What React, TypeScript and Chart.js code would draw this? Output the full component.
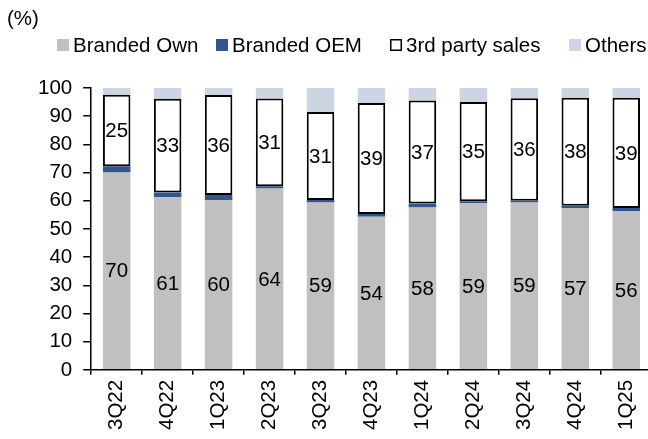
import React, { useEffect, useRef } from "react";
import { Chart, registerables } from "chart.js";

Chart.register(...registerables);

const categories = ["3Q22", "4Q22", "1Q23", "2Q23", "3Q23", "4Q23", "1Q24", "2Q24", "3Q24", "4Q24", "1Q25"];
const brandedOwn = [70.0, 61.3, 60.3, 64.3, 59.4, 54.3, 57.6, 59.2, 59.4, 57.4, 56.4];
const brandedOEM = [2.2, 1.6, 1.7, 0.8, 0.9, 1.0, 1.4, 0.6, 0.6, 0.8, 1.0];
const thirdParty = [25.4, 33.3, 35.5, 31.2, 31.2, 39.4, 36.6, 35.2, 36.4, 38.3, 39.1];
const others = [2.4, 3.8, 2.5, 3.7, 8.5, 5.3, 4.4, 5.0, 3.6, 3.5, 3.5];
const seriesNames = ["Branded Own", "Branded OEM", "3rd party sales", "Others"];
const unitLabel = "(%)";
const yMin = 0;
const yMax = 100;
const yStep = 10;

const FONT = '"Liberation Sans", Arial, sans-serif';
const FS = 20.5;
const legendX = [57, 216, 390, 569];

const segLabelPlugin = {
  id: "segLabels",
  afterDatasetsDraw(chart: any) {
    const ctx = chart.ctx;
    ctx.save();
    ctx.font = `${FS}px ${FONT}`;
    ctx.fillStyle = "#000";
    ctx.textAlign = "center";
    ctx.textBaseline = "middle";
    [0, 2].forEach((di) => {
      const meta = chart.getDatasetMeta(di);
      meta.data.forEach((el: any, i: number) => {
        const p = el.getProps(["x", "y", "base"], true);
        const v = chart.data.datasets[di].data[i] as number;
        ctx.fillText(String(Math.round(v)), p.x, (p.y + p.base) / 2 + 1);
      });
    });
    ctx.restore();
  },
};

const headerPlugin = {
  id: "headerLegend",
  afterDraw(chart: any) {
    const ctx = chart.ctx;
    ctx.save();
    ctx.font = `${FS}px ${FONT}`;
    ctx.textAlign = "left";
    ctx.textBaseline = "middle";
    ctx.fillStyle = "#000";
    ctx.fillText(unitLabel, 7, 19);
    const y = 45;
    chart.data.datasets.forEach((ds: any, i: number) => {
      const x = legendX[i];
      const box = 12;
      ctx.fillStyle = ds.backgroundColor;
      ctx.fillRect(x, y - box / 2, box, box);
      if (ds.borderWidth) {
        ctx.strokeStyle = "#000";
        ctx.lineWidth = 1.5;
        ctx.strokeRect(x + 0.75, y - box / 2 + 0.75, box - 1.5, box - 1.5);
      }
      ctx.fillStyle = "#000";
      ctx.fillText(ds.label, x + box + 4, y + 1);
    });
    ctx.restore();
  },
};

export default function App() {
  const ref = useRef<HTMLCanvasElement | null>(null);
  useEffect(() => {
    if (!ref.current) return;
    const chart = new Chart(ref.current, {
      type: "bar",
      data: {
        labels: categories,
        datasets: [
          { label: seriesNames[0], data: brandedOwn, backgroundColor: "#c0c0c0", borderWidth: 0 },
          { label: seriesNames[1], data: brandedOEM, backgroundColor: "#34558b", borderWidth: 0 },
          {
            label: seriesNames[2],
            data: thirdParty,
            backgroundColor: "#ffffff",
            borderColor: "#000000",
            borderWidth: 2,
            borderSkipped: false,
          },
          { label: seriesNames[3], data: others, backgroundColor: "#cdd5e2", borderWidth: 0 },
        ],
      },
      options: {
        animation: false,
        responsive: true,
        maintainAspectRatio: false,
        layout: { padding: { top: 88, left: 27, right: 3, bottom: 4 } },
        datasets: { bar: { categoryPercentage: 1, barPercentage: 0.54 } },
        plugins: { legend: { display: false }, tooltip: { enabled: false } },
        scales: {
          x: {
            stacked: true,
            grid: { display: true, drawOnChartArea: false, offset: true, tickLength: 5, color: "#000", lineWidth: 1.5 },
            border: { color: "#000", width: 1.5 },
            ticks: { color: "#000", font: { family: FONT, size: FS }, minRotation: 90, maxRotation: 90, padding: 5 },
          },
          y: {
            stacked: true,
            min: yMin,
            max: yMax,
            grid: { display: true, drawOnChartArea: false, tickLength: 8, color: "#000", lineWidth: 1.5 },
            border: { color: "#000", width: 1.5 },
            ticks: { stepSize: yStep, color: "#000", font: { family: FONT, size: FS }, padding: 11 },
          },
        },
      },
      plugins: [segLabelPlugin, headerPlugin],
    });
    return () => chart.destroy();
  }, []);
  return (
    <div style={{ position: "fixed", left: 0, top: 0, width: 648, height: 439, overflow: "hidden", background: "#fff" }}>
      <div style={{ position: "absolute", left: 0, top: 0, width: 656, height: 439 }}>
        <canvas ref={ref} />
      </div>
    </div>
  );
}
